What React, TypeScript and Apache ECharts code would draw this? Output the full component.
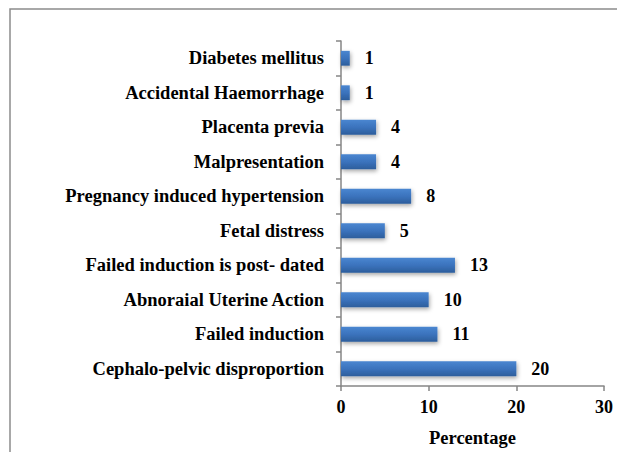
import React, { useEffect, useRef } from "react";
import * as echarts from "echarts";

const categories = [
  "Diabetes mellitus",
  "Accidental Haemorrhage",
  "Placenta previa",
  "Malpresentation",
  "Pregnancy induced hypertension",
  "Fetal distress",
  "Failed induction is post- dated",
  "Abnoraial Uterine Action",
  "Failed induction",
  "Cephalo-pelvic disproportion",
];
const values = [1, 1, 4, 4, 8, 5, 13, 10, 11, 20];
const xTicks = { min: 0, max: 30, interval: 10 };
const xAxisName = "Percentage";

const FONT = "'Liberation Serif', 'Times New Roman', serif";

export default function App() {
  const ref = useRef<HTMLDivElement>(null);
  useEffect(() => {
    if (!ref.current) return;
    const chart = echarts.init(ref.current, undefined, { renderer: "svg" });
    chart.setOption({
      animation: false,
      backgroundColor: "#ffffff",
      grid: { left: 341, top: 41, right: 13, bottom: 63, containLabel: false },
      graphic: [
        {
          type: "rect",
          shape: { x: 10, y: 9, width: 700, height: 500 },
          style: { fill: "none", stroke: "#8c8c8c", lineWidth: 1.5 },
          silent: true,
        },
      ],
      xAxis: {
        type: "value",
        min: xTicks.min,
        max: xTicks.max,
        interval: xTicks.interval,
        name: xAxisName,
        nameLocation: "middle",
        nameGap: 42,
        nameTextStyle: { fontFamily: FONT, fontWeight: "bold", fontSize: 18.5, color: "#000" },
        axisLine: { show: true, lineStyle: { color: "#868686", width: 1.5 } },
        axisTick: { show: true, length: 5, lineStyle: { color: "#868686", width: 1.5 } },
        axisLabel: { fontFamily: FONT, fontWeight: "bold", fontSize: 18, color: "#000", margin: 12 },
        splitLine: { show: false },
      },
      yAxis: {
        type: "category",
        data: categories,
        inverse: true,
        axisLine: { show: true, lineStyle: { color: "#868686", width: 1.5 } },
        axisTick: { show: true, length: 5, alignWithLabel: false, lineStyle: { color: "#868686", width: 1.5 } },
        axisLabel: { fontFamily: FONT, fontWeight: "bold", fontSize: 18.5, color: "#000", margin: 17 },
        splitLine: { show: false },
      },
      series: [
        {
          type: "bar",
          data: values,
          barCategoryGap: "57%",
          itemStyle: {
            color: new echarts.graphic.LinearGradient(0, 0, 0, 1, [
              { offset: 0, color: "#4a86d0" },
              { offset: 0.5, color: "#3b73bd" },
              { offset: 1, color: "#2d5e9c" },
            ]),
            shadowColor: "rgba(0,0,0,0.35)",
            shadowBlur: 4,
            shadowOffsetX: 1,
            shadowOffsetY: 2,
          },
          label: {
            show: true,
            position: "right",
            distance: 15,
            fontFamily: FONT,
            fontWeight: "bold",
            fontSize: 18,
            color: "#000",
          },
        },
      ],
    });
    return () => chart.dispose();
  }, []);
  return (
    <div
      ref={ref}
      style={{ position: "fixed", left: 0, top: 0, width: 617, height: 452 }}
    />
  );
}
